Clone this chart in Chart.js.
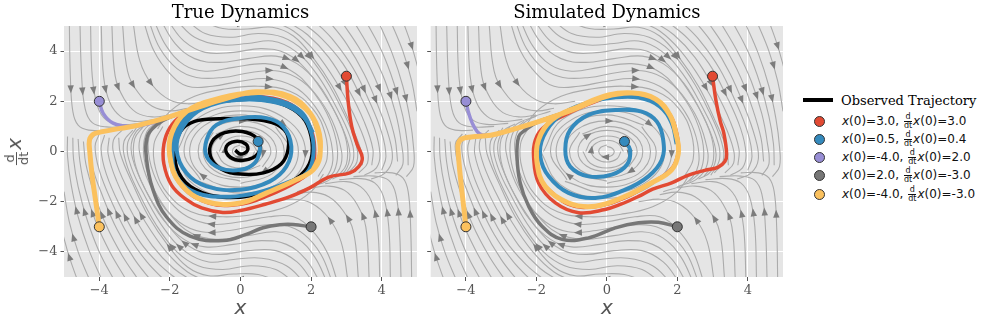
<!DOCTYPE html>
<html>
<head>
<meta charset="utf-8">
<script src="https://cdn.jsdelivr.net/npm/chart.js@4.4.0/dist/chart.umd.min.js"></script>
<style>
  body { margin: 0; background: #fff; width: 996px; height: 326px; overflow: hidden; position: relative; }
  canvas { position: absolute; top: 0; }
  #c1 { left: 0; }
  #c2 { left: 420px; }
  #ylab { position: absolute; left: 16px; top: 152px; transform: translate(-50%, -50%) rotate(-90deg);
          white-space: nowrap; color: #555; font-family: "DejaVu Sans"; }
  .frac { display: inline-block; vertical-align: middle; text-align: center; line-height: 1; margin: 0 1px; }
  .frac span { display: block; }
  .frac span:first-child { border-bottom: 1px solid currentColor; padding: 0 1px; }
  #ylab .frac { font-size: 13px; margin-right: 2px; }
  #ylab i { font-size: 20px; }
  .row { position: absolute; left: 803px; height: 18px; transform: translateY(-50%); display: flex; align-items: center; }
  .dot { width: 9px; height: 9px; border-radius: 50%; border: 1px solid #333; margin-left: 11px; margin-right: 17px; }
  .lab { font-family: "DejaVu Sans"; font-size: 12px; color: #111; white-space: nowrap; }
  .lab .frac { font-size: 8px; }
  .obs { font-family: "DejaVu Serif"; font-size: 13px; color: #000; white-space: nowrap; }
  .obsline { width: 30px; height: 4px; background: #000; margin-right: 8px; }
</style>
</head>
<body>
<canvas id="c1" width="430" height="326"></canvas>
<canvas id="c2" width="376" height="326"></canvas>
<div id="ylab"><span class="frac"><span>d</span><span>dt</span></span><i>x</i></div>
<div id="legend"></div>
<script>
const tickValues = [-4, -2, 0, 2, 4];
const initX = [3.0, 0.5, -4.0, 2.0, -4.0];
const initV = [3.0, 0.4, 2.0, -3.0, -3.0];
const trajColors = ['#E24A33', '#348ABD', '#988ED5', '#777777', '#FBC15E'];
const trajWidths = [3.5, 4, 3.5, 3.5, 5];

// true dynamics
const trueObserved = [[-1.6,1.3],[-1.2,1.72],[-0.5,2.0],[0.4,2.08],[1.2,1.88],[1.75,1.38],[2.0,0.6],[2.0,-0.3],[1.7,-0.95],[1.1,-1.4],[0.3,-1.75],[-0.5,-1.82],[-1.3,-1.5],[-1.75,-0.85],[-1.85,0.0],[-1.7,0.8],[-1.3,1.2],[-0.6,1.3],[0.2,1.3],[0.9,1.15],[1.3,0.75],[1.35,0.1],[1.15,-0.5],[0.65,-0.85],[0,-0.9],[-0.55,-0.7],[-0.85,-0.2],[-0.8,0.4],[-0.45,0.75],[0.05,0.8],[0.45,0.55],[0.55,0.1],[0.35,-0.25],[-0.05,-0.35],[-0.35,-0.15],[-0.4,0.2],[-0.15,0.4],[0.15,0.3],[0.2,0.05],[0,-0.1],[-0.15,0.05]];
const trueRed = [[3.0,3.0],[3.05,2.0],[3.15,1.0],[3.3,0.3],[3.45,-0.25],[3.35,-0.6],[3.1,-0.85],[2.5,-1.02],[1.96,-1.45],[1.4,-1.8],[0.7,-2.1],[0,-2.35],[-0.5,-2.43],[-1.1,-2.25],[-1.55,-1.9],[-1.95,-1.35],[-2.17,-0.5],[-2.17,0.3],[-2.0,0.95],[-1.7,1.4],[-1.0,1.9],[0,2.17],[0.92,2.12],[1.6,1.72],[1.97,1.0],[2.1,0.1],[2.0,-0.7],[1.6,-1.2],[0.8,-1.75],[0,-2.1],[-0.9,-2.05],[-1.65,-1.4],[-2.0,-0.3],[-1.9,0.8],[-1.4,1.6],[-0.6,2.1],[0.3,2.25]];
const trueBlue = [[0.5,0.4],[0.55,0.07],[0.4,-0.46],[0,-0.73],[-0.59,-0.66],[-0.96,-0.2],[-0.96,0.46],[-0.68,1.06],[0,1.33],[0.74,1.33],[1.21,0.99],[1.44,0.2],[1.3,-0.6],[0.83,-1.19],[0,-1.52],[-0.96,-1.39],[-1.53,-0.86],[-1.81,0.07],[-1.63,0.99],[-1.06,1.72],[-0.11,2.05],[0.92,1.98],[1.68,1.52],[2.01,0.73],[2.06,-0.2],[1.87,-0.86],[1.3,-1.25],[0.45,-1.65],[-0.3,-1.8],[-1.25,-1.65],[-1.81,-1.0],[-1.92,0.07],[-1.75,0.95],[-1.2,1.75],[-0.2,2.15],[0.9,2.08],[1.7,1.6],[2.05,0.75]];
const truePurple = [[-4,2],[-3.89,1.52],[-3.61,1.13],[-3.14,1.0],[-2.6,1.1],[-2.0,1.38],[-1.15,1.78],[-0.2,2.18],[0.45,2.36]];
const trueGray = [[2,-3],[1.49,-2.91],[1.11,-2.92],[0.64,-3.04],[0.2,-3.28],[-0.49,-3.55],[-1.43,-3.37],[-2.1,-2.6],[-2.48,-1.52],[-2.66,-0.33],[-2.64,0.6],[-2.38,1.06],[-2.0,1.37],[-1.15,1.78],[-0.2,2.18],[0.45,2.37],[1.4,2.19],[1.95,1.55],[2.2,0.75]];
const trueYellow = [[-4,-3],[-4.1,-2.0],[-4.2,-1.0],[-4.27,0],[-4.28,0.45],[-4.18,0.68],[-3.95,0.78],[-3.4,0.92],[-2.85,1.06],[-2.0,1.39],[-1.15,1.79],[-0.2,2.2],[0.45,2.38],[1.4,2.2],[1.96,1.55],[2.2,0.73],[2.25,-0.2],[2.06,-0.73],[1.59,-1.12],[0.74,-1.65],[0,-2.05],[-0.96,-2.0],[-1.72,-1.25],[-2.0,-0.2],[-1.95,0.73],[-1.53,1.59],[-0.78,2.05],[0.17,2.32],[1.1,2.28],[1.85,1.7],[2.2,0.9],[2.25,-0.1],[2.05,-0.75]];

// simulated dynamics
const simRed = [[3,3],[3.1,2.0],[3.22,1.2],[3.32,0.73],[3.4,-0.1],[3.35,-0.4],[3.15,-0.63],[2.78,-0.75],[2.3,-0.95],[1.84,-1.25],[1.3,-1.5],[0.9,-1.79],[0.4,-2.1],[-0.05,-2.31],[-0.8,-2.44],[-1.46,-2.05],[-1.94,-1.25],[-2.08,-0.2],[-2.03,0.46],[-1.8,0.95],[-1.2,1.45],[-0.4,1.95],[0.5,2.3],[1.3,2.1],[1.8,1.45],[2.0,0.6],[2.02,-0.1],[1.8,-0.75],[1.2,-1.3],[0.5,-1.85],[-0.35,-2.2],[-1.1,-2.1],[-1.75,-1.4]];
const simBlue = [[0.5,0.4],[0.66,0.07],[0.57,-0.53],[0.14,-0.92],[-0.52,-0.99],[-1.04,-0.6],[-1.18,0.07],[-1.04,0.86],[-0.52,1.46],[0.24,1.65],[0.99,1.59],[1.42,1.19],[1.6,0.46],[1.56,-0.33],[1.18,-0.99],[0.52,-1.52],[-0.33,-1.85],[-1.09,-1.65],[-1.65,-0.99],[-1.89,-0.2],[-1.8,0.6],[-1.37,1.39],[-0.61,1.92],[0.2,2.15],[0.9,2.15],[1.5,1.8],[1.85,1.1],[1.98,0.3]];
const simPurple = [[-4,2],[-3.92,1.52],[-3.82,1.13],[-3.68,0.79],[-3.54,0.66],[-3.3,0.65],[-2.88,0.79],[-1.94,1.19],[-0.99,1.65],[-0.05,2.18]];
const simGray = [[2,-3],[1.46,-2.82],[0.9,-2.84],[0.24,-3.04],[-0.52,-3.44],[-1.27,-3.5],[-1.84,-2.98],[-2.22,-2.18],[-2.46,-1.25],[-2.55,-0.2],[-2.5,0.6],[-2.31,0.86],[-1.94,1.19],[-0.99,1.65],[-0.05,2.18],[0.71,2.33],[1.37,2.1]];
const simYellow = [[-4,-3],[-4.08,-2],[-4.16,-1],[-4.22,0],[-4.22,0.3],[-4.12,0.5],[-3.85,0.58],[-3.3,0.65],[-2.88,0.79],[-1.94,1.19],[-0.99,1.65],[-0.05,2.18],[0.71,2.33],[1.37,2.1],[1.79,1.45],[1.98,0.6],[2.03,-0.07],[1.84,-0.73],[1.27,-1.25],[0.52,-1.79],[-0.33,-2.18],[-1.09,-2.05],[-1.75,-1.39],[-1.98,-0.46],[-1.94,0.46],[-1.56,1.26],[-0.8,1.79],[0.05,2.25],[0.75,2.33],[1.4,2.08],[1.8,1.42],[2.0,0.5]];

// background streamlines
const streamLines = [
  [[-4.85,5.2],[-4.82,3],[-4.75,1.6],[-4.6,1.05],[-4.3,0.85],[-3.8,0.85]],
  [[-4.55,5.2],[-4.5,3],[-4.4,1.7],[-4.2,1.15],[-3.8,0.98],[-3.2,1.0]],
  [[-4.25,5.2],[-4.2,3],[-4.05,1.8],[-3.8,1.25],[-3.4,1.08],[-2.8,1.12]],
  [[-3.95,5.2],[-3.88,3],[-3.7,1.95],[-3.4,1.4],[-3.0,1.2],[-2.4,1.28]],
  [[-3.65,5.2],[-3.55,3],[-3.3,2.1],[-2.95,1.55],[-2.5,1.38],[-2.0,1.45]],
  [[-3.35,5.2],[-3.2,3.2],[-2.9,2.35],[-2.5,1.8],[-2.0,1.62],[-1.5,1.72]],
  [[-3.05,5.2],[-2.85,3.6],[-2.5,2.65],[-2.0,2.05],[-1.5,1.9],[-0.9,2.0]],
  [[-2.75,5.2],[-2.45,4.0],[-2.0,3.1],[-1.5,2.6],[-0.8,2.6],[0,2.8],[0.8,2.9],[1.5,2.6],[2.0,2.0],[2.4,1.1],[2.6,0.1],[2.55,-0.75],[2.2,-1.3],[1.6,-1.6]],
  [[-2.6,5.2],[-2.28,4.1],[-1.8,3.3],[-1.25,2.95],[-0.5,2.95],[0.3,3.15],[1.1,3.2],[1.75,2.8],[2.25,2.0],[2.6,1.0],[2.75,0],[2.65,-0.8],[2.35,-1.2]],
  [[-2.45,5.2],[-2.1,4.2],[-1.6,3.45],[-1.0,3.2],[-0.2,3.35],[0.7,3.5],[1.4,3.25],[2.0,2.5],[2.5,1.5],[2.8,0.4],[2.85,-0.5],[2.55,-1.1],[2.0,-1.4]],
  [[-2.25,5.2],[-1.85,4.3],[-1.3,3.7],[-0.6,3.55],[0.2,3.7],[1.0,3.8],[1.6,3.5],[2.2,2.7],[2.7,1.5],[3.0,0.4],[3.0,-0.5],[2.75,-1.0]],
  [[-2.05,5.2],[-1.6,4.4],[-1.0,3.95],[-0.2,3.95],[0.6,4.1],[1.3,3.9],[1.9,3.2],[2.5,2.0],[2.9,0.9],[3.1,-0.1],[2.95,-0.8],[2.6,-1.1]],
  [[-1.8,5.2],[-1.3,4.55],[-0.6,4.25],[0.2,4.3],[0.9,4.4],[1.55,4.0],[2.15,3.1],[2.7,1.8],[3.1,0.6],[3.2,-0.3],[2.95,-0.95]],
  [[-1.5,5.2],[-1.0,4.7],[-0.3,4.55],[0.5,4.7],[1.2,4.55],[1.8,4.0],[2.4,2.9],[2.9,1.6],[3.25,0.4],[3.3,-0.4],[3.05,-0.85]],
  [[-1.1,5.2],[-0.5,4.9],[0.2,4.88],[0.9,4.95],[1.5,4.6],[2.05,3.75],[2.6,2.6],[3.05,1.3],[3.4,0.1],[3.45,-0.55]],
  [[-0.6,5.2],[0,5.08],[0.6,5.2]],
  [[0.9,5.2],[1.5,4.8],[2.1,4.0],[2.7,2.8],[3.2,1.5],[3.55,0.3],[3.6,-0.45],[3.35,-0.85]],
  [[1.3,5.2],[1.9,4.65],[2.5,3.75],[3.05,2.5],[3.5,1.2],[3.75,0.1],[3.72,-0.55]],
  [[1.7,5.2],[2.3,4.5],[2.9,3.5],[3.4,2.2],[3.8,0.9],[3.95,-0.1],[3.85,-0.65],[3.5,-0.95]],
  [[2.1,5.2],[2.65,4.4],[3.2,3.3],[3.65,2.0],[4.0,0.75],[4.12,-0.2],[4.0,-0.75]],
  [[2.5,5.2],[3.0,4.3],[3.5,3.1],[3.9,1.8],[4.2,0.6],[4.3,-0.3],[4.1,-0.85],[3.7,-1.1]],
  [[2.85,5.2],[3.35,4.15],[3.8,2.95],[4.15,1.65],[4.38,0.5],[4.45,-0.4]],
  [[3.2,5.2],[3.7,4.0],[4.1,2.8],[4.4,1.5],[4.55,0.4],[4.6,-0.5],[4.4,-0.95]],
  [[3.55,5.2],[4.0,4.0],[4.35,2.7],[4.6,1.4],[4.73,0.3],[4.75,-0.55]],
  [[3.9,5.2],[4.3,3.9],[4.6,2.6],[4.8,1.3],[4.9,0.2],[4.9,-0.6],[4.7,-1.0]],
  [[4.25,5.2],[4.6,4.0],[4.85,2.8],[5.0,1.6]],
  [[4.6,5.2],[4.85,4.2],[5.05,3.2]],
  [[4.85,-5.2],[4.82,-3],[4.75,-1.6],[4.6,-1.05],[4.3,-0.85],[3.8,-0.85]],
  [[4.55,-5.2],[4.5,-3],[4.4,-1.7],[4.2,-1.15],[3.8,-0.98],[3.2,-1.0]],
  [[4.25,-5.2],[4.2,-3],[4.05,-1.8],[3.8,-1.25],[3.4,-1.08],[2.8,-1.12]],
  [[3.95,-5.2],[3.88,-3],[3.7,-1.95],[3.4,-1.4],[3.0,-1.2],[2.4,-1.28]],
  [[3.65,-5.2],[3.55,-3],[3.3,-2.1],[2.95,-1.55],[2.5,-1.38],[2.0,-1.45]],
  [[3.35,-5.2],[3.2,-3.2],[2.9,-2.35],[2.5,-1.8],[2.0,-1.62],[1.5,-1.72]],
  [[3.05,-5.2],[2.85,-3.6],[2.5,-2.65],[2.0,-2.05],[1.5,-1.9],[0.9,-2.0]],
  [[2.75,-5.2],[2.45,-4.0],[2.0,-3.1],[1.5,-2.6],[0.8,-2.6],[0,-2.8],[-0.8,-2.9],[-1.5,-2.6],[-2.0,-2.0],[-2.4,-1.1],[-2.6,-0.1],[-2.55,0.75],[-2.2,1.3],[-1.6,1.6]],
  [[2.6,-5.2],[2.28,-4.1],[1.8,-3.3],[1.25,-2.95],[0.5,-2.95],[-0.3,-3.15],[-1.1,-3.2],[-1.75,-2.8],[-2.25,-2.0],[-2.6,-1.0],[-2.75,0],[-2.65,0.8],[-2.35,1.2]],
  [[2.45,-5.2],[2.1,-4.2],[1.6,-3.45],[1.0,-3.2],[0.2,-3.35],[-0.7,-3.5],[-1.4,-3.25],[-2.0,-2.5],[-2.5,-1.5],[-2.8,-0.4],[-2.85,0.5],[-2.55,1.1],[-2.0,1.4]],
  [[2.25,-5.2],[1.85,-4.3],[1.3,-3.7],[0.6,-3.55],[-0.2,-3.7],[-1.0,-3.8],[-1.6,-3.5],[-2.2,-2.7],[-2.7,-1.5],[-3.0,-0.4],[-3.0,0.5],[-2.75,1.0]],
  [[2.05,-5.2],[1.6,-4.4],[1.0,-3.95],[0.2,-3.95],[-0.6,-4.1],[-1.3,-3.9],[-1.9,-3.2],[-2.5,-2.0],[-2.9,-0.9],[-3.1,0.1],[-2.95,0.8],[-2.6,1.1]],
  [[1.8,-5.2],[1.3,-4.55],[0.6,-4.25],[-0.2,-4.3],[-0.9,-4.4],[-1.55,-4.0],[-2.15,-3.1],[-2.7,-1.8],[-3.1,-0.6],[-3.2,0.3],[-2.95,0.95]],
  [[1.5,-5.2],[1.0,-4.7],[0.3,-4.55],[-0.5,-4.7],[-1.2,-4.55],[-1.8,-4.0],[-2.4,-2.9],[-2.9,-1.6],[-3.25,-0.4],[-3.3,0.4],[-3.05,0.85]],
  [[1.1,-5.2],[0.5,-4.9],[-0.2,-4.88],[-0.9,-4.95],[-1.5,-4.6],[-2.05,-3.75],[-2.6,-2.6],[-3.05,-1.3],[-3.4,-0.1],[-3.45,0.55]],
  [[0.6,-5.2],[0,-5.08],[-0.6,-5.2]],
  [[-0.9,-5.2],[-1.5,-4.8],[-2.1,-4.0],[-2.7,-2.8],[-3.2,-1.5],[-3.55,-0.3],[-3.6,0.45],[-3.35,0.85]],
  [[-1.3,-5.2],[-1.9,-4.65],[-2.5,-3.75],[-3.05,-2.5],[-3.5,-1.2],[-3.75,-0.1],[-3.72,0.55]],
  [[-1.7,-5.2],[-2.3,-4.5],[-2.9,-3.5],[-3.4,-2.2],[-3.8,-0.9],[-3.95,0.1],[-3.85,0.65]],
  [[-2.1,-5.2],[-2.65,-4.4],[-3.2,-3.3],[-3.65,-2.0],[-4.0,-0.75],[-4.12,0.2],[-4.0,0.7]],
  [[-2.5,-5.2],[-3.0,-4.3],[-3.5,-3.1],[-3.9,-1.8],[-4.2,-0.6],[-4.3,0.3],[-4.1,0.7]],
  [[-2.85,-5.2],[-3.35,-4.15],[-3.8,-2.95],[-4.15,-1.65],[-4.38,-0.5],[-4.45,0.4]],
  [[-3.2,-5.2],[-3.7,-4.0],[-4.1,-2.8],[-4.4,-1.5],[-4.55,-0.4],[-4.6,0.5]],
  [[-3.55,-5.2],[-4.0,-4.0],[-4.35,-2.7],[-4.6,-1.4],[-4.73,-0.3],[-4.75,0.55]],
  [[-3.9,-5.2],[-4.3,-3.9],[-4.6,-2.6],[-4.8,-1.3],[-4.9,-0.2],[-4.9,0.6]],
  [[-4.25,-5.2],[-4.6,-4.0],[-4.85,-2.8],[-5.0,-1.6]],
  [[-4.6,-5.2],[-4.85,-4.2],[-5.05,-3.2]],
  [[-2.35,0.9],[-2.0,1.6],[-1.3,2.2],[-0.4,2.5],[0.5,2.6],[1.4,2.4],[2.05,1.7],[2.4,0.7],[2.45,-0.3],[2.2,-1.0]],
  [[2.35,-0.9],[2.0,-1.6],[1.3,-2.2],[0.4,-2.5],[-0.5,-2.6],[-1.4,-2.4],[-2.05,-1.7],[-2.4,-0.7],[-2.45,0.3],[-2.2,1.0]],
  [[0,0.2],[0.14,0.14],[0.21,0],[0.15,-0.15],[0,-0.22],[-0.16,-0.16],[-0.23,0],[-0.17,0.17],[0,0.26]],
  [[0.4,0],[0.29,-0.29],[0,-0.42],[-0.3,-0.3],[-0.44,0],[-0.32,0.32],[0,0.45],[0.32,0.32],[0.47,0]],
  [[-0.6,0],[-0.43,0.43],[0,0.62],[0.45,0.45],[0.64,0],[0.46,-0.46],[0,-0.66],[-0.47,-0.47],[-0.68,0]],
  [[0.56,-0.56],[0,-0.8],[-0.58,-0.58],[-0.82,0],[-0.59,0.59],[0,0.84],[0.6,0.6],[0.86,0],[0.62,-0.62]],
  [[-0.7,0.7],[0,1.0],[0.72,0.72],[1.02,0],[0.73,-0.73],[0,-1.04],[-0.75,-0.75],[-1.06,0],[-0.77,0.77]],
  [[0,-1.18],[-0.85,-0.85],[-1.2,0],[-0.86,0.86],[0,1.22],[0.87,0.87],[1.24,0],[0.89,-0.89],[0,-1.27]],
  [[0.99,0.99],[1.4,0],[1.0,-1.0],[0,-1.42],[-1.02,-1.02],[-1.44,0],[-1.03,1.03],[0,1.46],[1.05,1.05]],
  [[-1.13,-1.13],[-1.6,0],[-1.14,1.14],[0,1.62],[1.16,1.16],[1.64,0],[1.17,-1.17],[0,-1.66],[-1.19,-1.19]],
  [[-1.8,0],[-1.27,1.27],[0,1.82],[1.29,1.29],[1.84,0],[1.31,-1.31],[0,-1.86],[-1.32,-1.32],[-1.88,0]]
];

const toXY = arr => arr.map(p => ({ x: p[0], y: p[1] }));
const fmt = v => (v < 0 ? '\u2212' + Math.abs(v) : String(v));

function buildDatasets(trajs, observed) {
  const ds = [];
  streamLines.forEach(line => {
    ds.push({ data: toXY(line), showLine: true, borderColor: '#ababab', borderWidth: 1.1,
              pointRadius: 0, pointHitRadius: 0, tension: 0.4, order: 100, streamline: true });
  });
  if (observed) {
    ds.push({ data: toXY(observed), showLine: true, borderColor: '#000', borderWidth: 3.5,
              pointRadius: 0, tension: 0.4, order: 50 });
  }
  trajs.forEach((t, i) => {
    ds.push({ data: toXY(t), showLine: true, borderColor: trajColors[i], borderWidth: trajWidths[i],
              pointRadius: 0, tension: 0.4, order: 40 - i });
  });
  ds.push({ data: initX.map((x, i) => ({ x: x, y: initV[i] })), showLine: false,
            pointRadius: 5, pointBackgroundColor: trajColors, pointBorderColor: '#333',
            pointBorderWidth: 1, order: 0 });
  return ds;
}

const bgPlugin = {
  id: 'bg',
  beforeDraw(chart) {
    const { ctx, chartArea: a } = chart;
    ctx.save();
    ctx.fillStyle = '#E5E5E5';
    ctx.fillRect(a.left, a.top, a.right - a.left, a.bottom - a.top);
    ctx.restore();
  }
};

// arrowhead at the middle of each streamline, like matplotlib's streamplot
const arrowPlugin = {
  id: 'streamArrows',
  afterDatasetDraw(chart, args) {
    const ds = chart.data.datasets[args.index];
    if (!ds.streamline) return;
    const pts = args.meta.data;
    const seg = [];
    let total = 0;
    for (let i = 1; i < pts.length; i++) {
      const l = Math.hypot(pts[i].x - pts[i - 1].x, pts[i].y - pts[i - 1].y);
      seg.push(l);
      total += l;
    }
    let rest = total / 2, k = 0;
    while (k < seg.length - 1 && rest > seg[k]) { rest -= seg[k]; k++; }
    const t = seg[k] > 0 ? rest / seg[k] : 0.5;
    const p0 = pts[k], p1 = pts[k + 1];
    const c1x = p0.cp2x ?? p0.x, c1y = p0.cp2y ?? p0.y;
    const c2x = p1.cp1x ?? p1.x, c2y = p1.cp1y ?? p1.y;
    const u = 1 - t;
    const x = u * u * u * p0.x + 3 * u * u * t * c1x + 3 * u * t * t * c2x + t * t * t * p1.x;
    const y = u * u * u * p0.y + 3 * u * u * t * c1y + 3 * u * t * t * c2y + t * t * t * p1.y;
    let dx = 3 * u * u * (c1x - p0.x) + 6 * u * t * (c2x - c1x) + 3 * t * t * (p1.x - c2x);
    let dy = 3 * u * u * (c1y - p0.y) + 6 * u * t * (c2y - c1y) + 3 * t * t * (p1.y - c2y);
    const n = Math.hypot(dx, dy) || 1;
    dx /= n; dy /= n;
    const { ctx, chartArea: a } = chart;
    ctx.save();
    ctx.beginPath();
    ctx.rect(a.left, a.top, a.right - a.left, a.bottom - a.top);
    ctx.clip();
    ctx.fillStyle = '#7c7c7c';
    ctx.beginPath();
    ctx.moveTo(x + dx * 4.5, y + dy * 4.5);
    ctx.lineTo(x - dx * 3.5 - dy * 3.2, y - dy * 3.5 + dx * 3.2);
    ctx.lineTo(x - dx * 3.5 + dy * 3.2, y - dy * 3.5 - dx * 3.2);
    ctx.closePath();
    ctx.fill();
    ctx.restore();
  }
};

function makeChart(id, title, trajs, observed, showYLabels, yWidth) {
  return new Chart(document.getElementById(id), {
    type: 'scatter',
    data: { datasets: buildDatasets(trajs, observed) },
    options: {
      responsive: false,
      animation: false,
      events: [],
      layout: { padding: { left: 0, right: 13, top: 0, bottom: 0 } },
      plugins: {
        legend: { display: false },
        tooltip: { enabled: false },
        title: {
          display: true, text: title, fullSize: false, color: '#000',
          font: { family: 'DejaVu Serif', size: 18, weight: 'normal' },
          padding: { top: 3, bottom: 1.4 }
        }
      },
      scales: {
        x: {
          type: 'linear', min: -5, max: 5,
          afterBuildTicks: s => { s.ticks = tickValues.map(v => ({ value: v })); },
          afterFit: s => { s.height = 49; },
          grid: { color: '#fff', lineWidth: 1, tickColor: '#555', tickLength: 4, tickWidth: 1 },
          border: { display: false },
          ticks: { color: '#555', font: { family: 'DejaVu Serif', size: 13 }, padding: 2, maxRotation: 0, callback: v => fmt(v) },
          title: { display: true, text: 'x', color: '#555',
                   font: { family: 'DejaVu Sans', size: 20, style: 'italic' }, padding: { top: 0, bottom: 5 } }
        },
        y: {
          type: 'linear', min: -5, max: 5,
          afterBuildTicks: s => { s.ticks = tickValues.map(v => ({ value: v })); },
          afterFit: s => { s.width = yWidth; },
          grid: { color: '#fff', lineWidth: 1, tickColor: '#555', tickLength: 3.5, tickWidth: 1 },
          border: { display: false },
          ticks: { display: showYLabels, color: '#555', font: { family: 'DejaVu Serif', size: 13 }, padding: 3, callback: v => fmt(v) }
        }
      }
    },
    plugins: [bgPlugin, arrowPlugin]
  });
}

makeChart('c1', 'True Dynamics', [trueRed, trueBlue, truePurple, trueGray, trueYellow], trueObserved, true, 64);
makeChart('c2', 'Simulated Dynamics', [simRed, simBlue, simPurple, simGray, simYellow], null, false, 10.7);

// legend
const legend = document.getElementById('legend');
let html = '<div class="row" style="top:100px"><span class="obsline"></span><span class="obs">Observed Trajectory</span></div>';
initX.forEach((x, i) => {
  const top = 121 + i * 18.3;
  html += '<div class="row" style="top:' + top + 'px"><span class="dot" style="background:' + trajColors[i] + '"></span>' +
    '<span class="lab"><i>x</i>(0)=' + x.toFixed(1) + ', <span class="frac"><span>d</span><span>dt</span></span><i>x</i>(0)=' +
    initV[i].toFixed(1) + '</span></div>';
});
legend.innerHTML = html;
</script>
</body>
</html>
